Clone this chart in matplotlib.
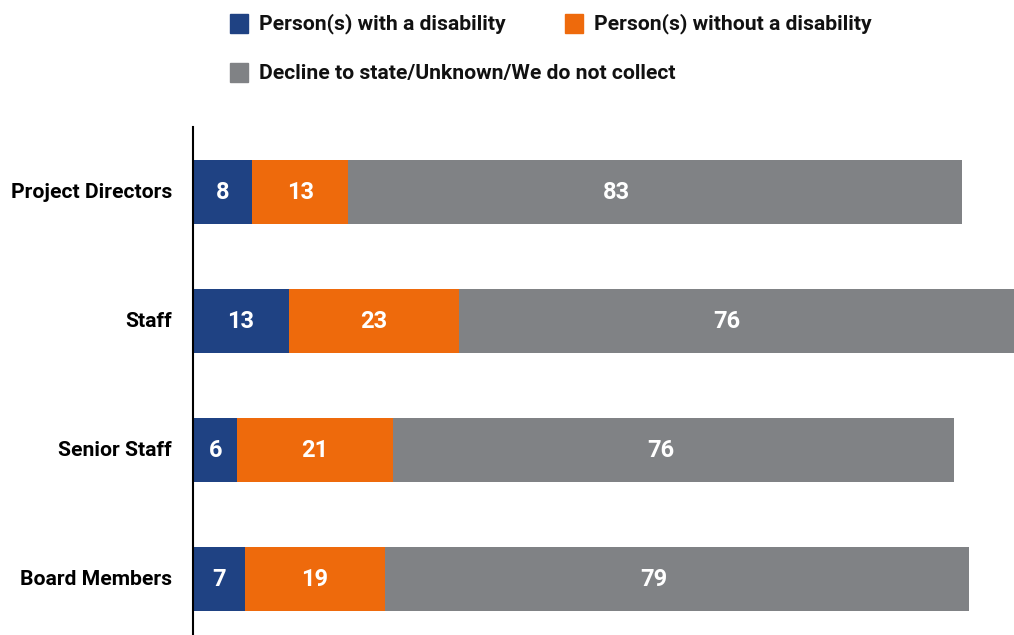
import matplotlib
matplotlib.use("Agg")
import matplotlib.pyplot as plt
from matplotlib.patches import Rectangle

categories = ["Project Directors", "Staff", "Senior Staff", "Board Members"]
with_disability = [8, 13, 6, 7]
without_disability = [13, 23, 21, 19]
unknown = [83, 76, 76, 79]
series_names = ["Person(s) with a disability", "Person(s) without a disability",
                "Decline to state/Unknown/We do not collect"]
colors = ["#1F4283", "#EE6A0C", "#808285"]

W, H = 1014, 635
fig = plt.figure(figsize=(W / 100, H / 100), dpi=100)
plt.rcParams['font.family'] = ['Roboto', 'DejaVu Sans']

ax = fig.add_axes([193 / W, 0, (W - 193) / W, (H - 127) / H])
y = list(range(len(categories)))
left = [0] * len(categories)
LABEL_CAP = 36.3  # labels sit at segment centre, but no further than this from segment start
for vals, col in zip([with_disability, without_disability, unknown], colors):
    bars = ax.barh(y, vals, left=left, height=0.5, color=col)
    for b, v, l in zip(bars, vals, left):
        ax.text(l + min(v / 2, LABEL_CAP), b.get_y() + b.get_height() / 2, str(v),
                color="white", ha="center", va="center", fontsize=17,
                fontweight="bold")
    left = [a + b for a, b in zip(left, vals)]

ax.set_xlim(0, (W - 193) / 7.39)
ax.set_ylim(3.434, -0.504)
ax.set_yticks(y)
ax.set_yticklabels(categories, fontsize=15.2, fontweight="bold")
for lab in ax.get_yticklabels():
    lab.set_va("center")
ax.tick_params(axis="y", length=0, pad=15)
ax.set_xticks([])
for s in ["top", "right", "bottom"]:
    ax.spines[s].set_visible(False)
ax.spines["left"].set_linewidth(1.5)
ax.spines["left"].set_color("black")

# legend
legend_pos = [(230, 14), (565, 14), (230, 63)]
for (px, py), name, col in zip(legend_pos, series_names, colors):
    fig.patches.append(Rectangle((px / W, 1 - (py + 19) / H), 18 / W, 19 / H,
                                 transform=fig.transFigure, color=col))
    fig.text((px + 29) / W, 1 - (py + 10) / H, name, fontsize=15.2,
             fontweight="bold", va="center", ha="left", color="#111111")

fig.savefig("out.png", dpi=100)
